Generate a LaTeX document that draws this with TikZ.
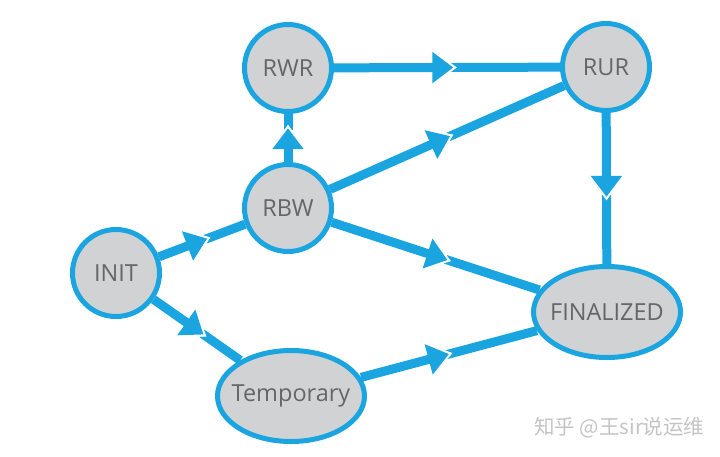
\documentclass[tikz,border=0pt]{standalone}
\usepackage{fontspec}
\setmainfont{Open Sans}
\newfontfamily\cjk{Noto Sans CJK SC}
\usetikzlibrary{arrows.meta,calc,shapes.geometric}
\definecolor{edgeblue}{HTML}{1AA5E0}
\definecolor{nodefill}{HTML}{D1D2D4}
\definecolor{nodetext}{HTML}{666666}
\definecolor{wmark}{HTML}{C4C4C4}
\tikzset{
  labeltext/.style={text=nodetext, font=\fontsize{23.5}{26}\selectfont, inner sep=0pt},
  state/.style={circle, draw=edgeblue, fill=nodefill, line width=5pt, minimum size=87pt, inner sep=0pt, labeltext},
  oval/.style={ellipse, draw=edgeblue, fill=nodefill, line width=5pt, minimum width=147pt, minimum height=91pt, inner sep=0pt,
    label={[labeltext]center:#1}},
  edgeline/.style={draw=edgeblue, line width=9pt},
  headtip/.style={-{Triangle[width=30pt,length=21pt]}},
  notch/.style={draw=white, fill=white, line width=0.5pt, -{Triangle[width=35pt,length=25pt]}}
}
\newcommand\flowedge[3]{%
  \coordinate (tip) at ($(#1)!#3!(#2)$);
  \draw[edgeline] ($(tip)!-2pt!(#2)$) -- (#2);
  \draw[notch] ($(tip)!-24pt!(#2)$) -- ($(tip)!3.5pt!(#2)$);
  \draw[edgeline,headtip] (#1) -- (tip);
}
\begin{document}
\begin{tikzpicture}[x=1pt,y=-1pt]
\useasboundingbox (0,0) rectangle (720,456);
\node[state] (RWR) at (288,68) {RWR};
\node[state] (RUR) at (606,67) {RUR};
\node[state] (RBW) at (288,208) {RBW};
\node[state] (INIT) at (116,273) {INIT};
\node[oval=Temporary] (TMP) at (291,396) {};
\node[oval=FINALIZED] (FIN) at (607,312) {};
\flowedge{RWR}{RUR}{0.52}
\flowedge{RBW}{RWR}{0.57}
\flowedge{RBW}{RUR}{0.51}
\flowedge{RUR}{FIN}{0.53}
\flowedge{RBW}{FIN}{0.50}
\flowedge{INIT}{RBW}{0.53}
\flowedge{INIT}{TMP}{0.50}
\flowedge{TMP}{FIN}{0.50}
\node[text=wmark, font=\cjk\fontsize{20.5}{22}\selectfont, anchor=east] (wm) at (708,428) {知乎 @王sir说运维};
\end{tikzpicture}
\end{document}
